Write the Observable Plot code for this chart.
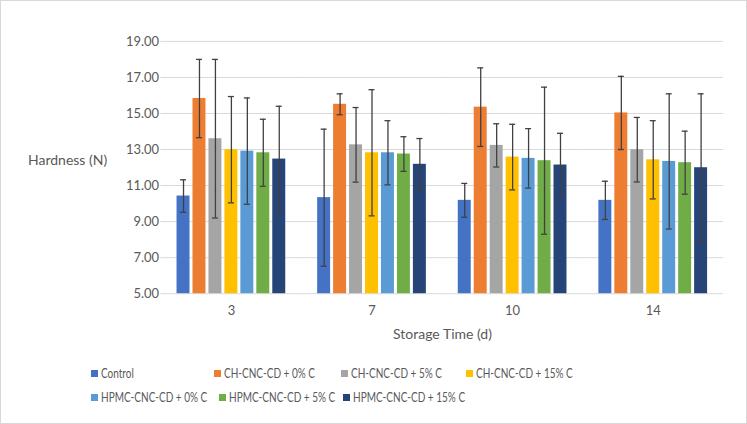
<!DOCTYPE html>
<html>
<head>
<meta charset="utf-8">
<script src="https://cdn.jsdelivr.net/npm/d3@7"></script>
<script src="https://cdn.jsdelivr.net/npm/@observablehq/plot@0.6"></script>
<style>
  body { margin: 0; background: #fff; font-family: Lato, "Open Sans", sans-serif; }
  #wrap { position: relative; width: 745px; height: 422px; border: 1px solid #d9d9d9; overflow: hidden; }
  #chart { position: absolute; left: 0; top: 0; }
  .ylab { position: absolute; left: 27px; top: 150px; font-size: 14px; color: #595959; }
  .xlab { position: absolute; left: 0; width: 883px; text-align: center; top: 324px; font-size: 14px; color: #595959; }
  .leg { position: absolute; font-size: 12.5px; color: #595959; white-space: nowrap; }
  .leg i { display: inline-block; width: 7px; height: 7px; margin-right: 3px; vertical-align: 1px; }
  .leg span { display: inline-block; transform: scaleX(0.8); transform-origin: 0 50%; }
</style>
</head>
<body>
<div id="wrap">
  <div id="chart"></div>
  <div class="ylab">Hardness (N)</div>
  <div class="xlab">Storage Time (d)</div>
  <div id="legend"></div>
</div>
<script>
const times = ["3", "7", "10", "14"];
const series = ["Control", "CH-CNC-CD + 0% C", "CH-CNC-CD + 5% C", "CH-CNC-CD + 15% C",
  "HPMC-CNC-CD + 0% C", "HPMC-CNC-CD + 5% C", "HPMC-CNC-CD + 15% C"];
const colors = ["#4472C4", "#ED7D31", "#A5A5A5", "#FFC000", "#5B9BD5", "#70AD47", "#264478"];

// mean hardness per series, one value per storage time
const means = [
  [10.42, 10.33, 10.18, 10.18],
  [15.83, 15.51, 15.35, 15.03],
  [13.60, 13.26, 13.23, 12.99],
  [12.99, 12.82, 12.58, 12.43],
  [12.91, 12.82, 12.51, 12.34],
  [12.82, 12.75, 12.38, 12.27],
  [12.47, 12.18, 12.14, 11.99]
];
// standard deviation (error bar half-length)
const errs = [
  [0.90, 3.80, 0.94, 1.06],
  [2.17, 0.58, 2.18, 2.03],
  [4.40, 2.07, 1.20, 1.79],
  [2.95, 3.50, 1.82, 2.17],
  [2.95, 1.78, 1.65, 3.75],
  [1.86, 0.96, 4.08, 1.75],
  [2.93, 1.43, 1.76, 4.10]
];
const yTicks = [5, 7, 9, 11, 13, 15, 17, 19];

const data = [];
series.forEach((s, i) => times.forEach((t, j) => {
  data.push({series: s, time: t, value: means[i][j], lo: means[i][j] - errs[i][j], hi: means[i][j] + errs[i][j]});
}));

const chart = Plot.plot({
  width: 747,
  height: 345,
  marginLeft: 158,
  marginRight: 22,
  marginTop: 40,
  marginBottom: 52,
  style: {fontFamily: "Lato, 'Open Sans', sans-serif", fontSize: "13px", color: "#595959", background: "transparent"},
  fx: {domain: times, paddingInner: 0.157, paddingOuter: 0.0785, axis: "bottom", tickSize: 0, tickPadding: 12, label: null},
  x: {domain: series, padding: 0.2, axis: null},
  y: {domain: [5, 19], ticks: yTicks, tickFormat: d3.format(".2f"), tickSize: 0, tickPadding: 13, label: null},
  color: {domain: series, range: colors},
  marks: [
    // grid drawn in each facet, stretched over the gaps so lines look continuous
    Plot.ruleY(yTicks, {stroke: "#d9d9d9", strokeWidth: 1, insetLeft: -11.2, insetRight: -11.2}),
    Plot.barY(data, {fx: "time", x: "series", y1: 5, y2: "value", fill: "series"}),
    Plot.ruleX(data, {fx: "time", x: "series", y1: "lo", y2: "hi", stroke: "#404040", strokeWidth: 1.3}),
    Plot.tickY(data, {fx: "time", x: "series", y: "lo", stroke: "#404040", strokeWidth: 1.3, insetLeft: 3.5, insetRight: 3.5}),
    Plot.tickY(data, {fx: "time", x: "series", y: "hi", stroke: "#404040", strokeWidth: 1.3, insetLeft: 3.5, insetRight: 3.5})
  ]
});
d3.select("#chart").append(() => chart);

// legend, two rows like the original
const legPos = [[90, 365], [213, 365], [340, 365], [465, 365], [90, 389], [218, 389], [342, 389]];
const leg = d3.select("#legend");
series.forEach((s, i) => {
  const d = leg.append("div").attr("class", "leg")
    .style("left", legPos[i][0] + "px").style("top", legPos[i][1] + "px");
  d.append("i").style("background", colors[i]);
  d.append("span").text(s);
});
</script>
</body>
</html>
